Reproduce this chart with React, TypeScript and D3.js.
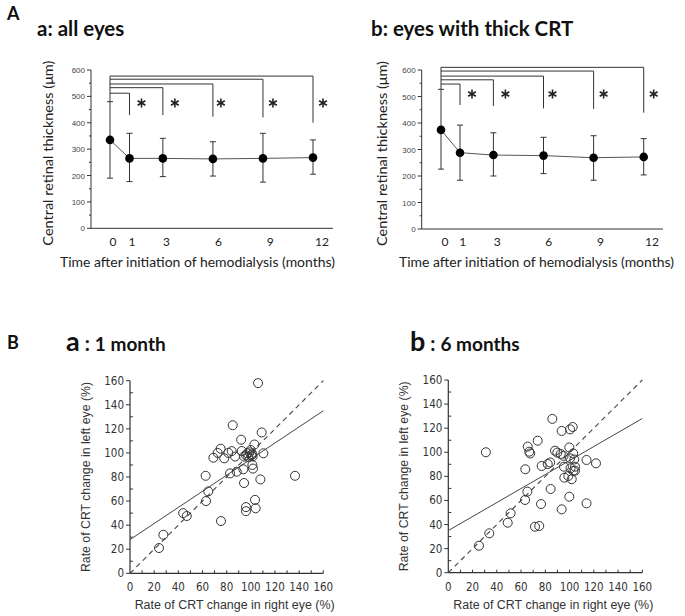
import React from "react";
import * as d3 from "d3";

// ---------- Data ----------
const months = [0, 1, 3, 6, 9, 12];
const allEyesMean = [335, 265, 265, 263, 265, 268];
const allEyesUpper = [480, 360, 341, 328, 360, 335];
const allEyesLower = [190, 177, 196, 198, 175, 205];
const allEyesBracketLevel = [512, 533, 547, 565, 577];
const allEyesBracketEnd = [429, 429, 423, 420, 400];

const thickMean = [374, 288, 279, 277, 269, 272];
const thickUpper = [527, 392, 363, 346, 352, 341];
const thickLower = [226, 184, 200, 209, 184, 204];
const thickBracketLevel = [547, 563, 577, 596, 610];
const thickBracketEnd = [468, 464, 455, 453, 439];

const yTicksA = [0, 100, 200, 300, 400, 500, 600];
const ticksB = [0, 20, 40, 60, 80, 100, 120, 140, 160];

// Scatter: 1 month (right eye %, left eye %)
const oneMonthRight = [106, 85, 109, 92, 75, 103, 72.6, 69, 78, 81.4, 84.2, 87, 92.5, 94.4, 97.1, 99.9, 101.2, 101.5, 97.9, 110.4, 99, 100.5, 96, 101.3, 101.8, 62.6, 82.8, 88.3, 93.8, 94.4, 107.9, 136.6, 64.8, 62.9, 103.5, 96, 96, 104, 75.3, 44, 47, 27.6, 24];
const oneMonthLeft = [158, 123, 117, 111, 103.5, 107, 100, 96, 95.5, 100, 101.5, 97, 101.6, 97, 99.7, 102.4, 99, 97, 96.4, 99.7, 100.5, 98, 98, 90, 87, 81, 83, 84.4, 86.4, 75, 78, 81, 68, 60, 61, 55, 51.6, 54, 43.4, 50, 47.6, 32, 21];
const oneMonthFit = [28, 135];

// Scatter: 6 months
const sixMonthRight = [31, 85.8, 93.5, 100.4, 102.6, 73.7, 65.5, 66.8, 67.5, 99.8, 88, 89.9, 92.7, 95, 103, 103.9, 100.4, 114, 121.8, 63.5, 77, 82, 84, 95.4, 100.8, 104.5, 104.5, 95.7, 99, 101.8, 25.3, 33.8, 49, 51.4, 63.3, 65.2, 71.5, 75, 76.5, 84.4, 93.5, 99.8, 114, 103.1];
const sixMonthLeft = [100, 127.7, 117.7, 119, 121, 109.6, 104.7, 100.5, 99, 104, 101.3, 99.7, 98.6, 97, 99, 94, 95, 93.6, 90.8, 85.9, 88.6, 90.2, 91.5, 88, 86.7, 88, 84.7, 78.9, 80.3, 77.6, 22.4, 32.7, 41.5, 49.3, 60.4, 67.3, 38.2, 38.8, 57, 69.5, 52.6, 63.1, 57.6, 84.5];
const sixMonthFit = [35, 128];

// ---------- Components ----------
const labelFont = "Lato, 'Open Sans', sans-serif";
const tickFont = "'Liberation Sans Narrow', 'DejaVu Sans Condensed', 'Liberation Sans', sans-serif";

function Star({ cx, cy }: { cx: number; cy: number }) {
  const r = 4.5;
  const arms = [90, 30, 150];
  return (
    <g>
      {arms.map((a) => {
        const rad = (a * Math.PI) / 180;
        return (
          <line
            key={a}
            x1={cx - r * Math.cos(rad)}
            y1={cy - r * Math.sin(rad)}
            x2={cx + r * Math.cos(rad)}
            y2={cy + r * Math.sin(rad)}
            stroke="#222"
            strokeWidth={1.6}
          />
        );
      })}
    </g>
  );
}

type LinePanelProps = {
  axisX: number;
  xRange: [number, number, number];
  labelRange: [number, number, number];
  yRange: [number, number];
  axisEnd: number;
  mean: number[];
  upper: number[];
  lower: number[];
  level: number[];
  end: number[];
  starDx: number[];
  starY: number;
  titleX: number;
  title: string;
  yTitleX: number;
  xTitleX: number;
};

function LinePanel(p: LinePanelProps) {
  const x = d3.scaleLinear().domain([0, 1, 12]).range(p.xRange);
  const xl = d3.scaleLinear().domain([0, 1, 12]).range(p.labelRange);
  const y = d3.scaleLinear().domain([0, 600]).range(p.yRange);
  const line = d3
    .line<number>()
    .x((_, i) => x(months[i]))
    .y((d) => y(d));
  const minor = d3.range(50, 600, 100);
  const x0 = x(0);
  return (
    <g>
      <text x={p.titleX} y={36} fontFamily={labelFont} fontWeight="bold" fontSize={20.5} fill="#111">
        {p.title}
      </text>
      {/* y axis */}
      <line x1={p.axisX} x2={p.axisX} y1={y(600)} y2={y(0)} stroke="#333" strokeWidth={1} />
      <line x1={p.axisX} x2={p.axisEnd} y1={y(0)} y2={y(0)} stroke="#333" strokeWidth={1} />
      {yTicksA.map((t) => (
        <g key={t}>
          <line x1={p.axisX - 4} x2={p.axisX} y1={y(t)} y2={y(t)} stroke="#333" />
          <text x={p.axisX - 6} y={y(t) + 3} textAnchor="end" fontFamily="'Liberation Sans', sans-serif" fontSize={8} fill="#444">
            {t}
          </text>
        </g>
      ))}
      {minor.map((t) => (
        <line key={t} x1={p.axisX - 2} x2={p.axisX} y1={y(t)} y2={y(t)} stroke="#333" />
      ))}
      {/* x tick labels */}
      {months.map((m) => (
        <text key={m} x={xl(m)} y={246} textAnchor="middle" fontFamily={labelFont} fontSize={12} fill="#222">
          {m}
        </text>
      ))}
      {/* brackets */}
      <line x1={x0} x2={x0} y1={y(p.level[p.level.length - 1])} y2={y(p.upper[0])} stroke="#333" />
      {p.level.map((lv, i) => (
        <g key={i}>
          <line x1={x0} x2={x(months[i + 1])} y1={y(lv)} y2={y(lv)} stroke="#333" />
          <line x1={x(months[i + 1])} x2={x(months[i + 1])} y1={y(lv)} y2={y(p.end[i])} stroke="#333" />
          <Star cx={x(months[i + 1]) + p.starDx[i]} cy={p.starY} />
        </g>
      ))}
      {/* error bars */}
      {months.map((m, i) => (
        <g key={m}>
          <line x1={x(m)} x2={x(m)} y1={y(p.upper[i])} y2={y(p.lower[i])} stroke="#333" />
          <line x1={x(m) - 3} x2={x(m) + 3} y1={y(p.upper[i])} y2={y(p.upper[i])} stroke="#333" />
          <line x1={x(m) - 3} x2={x(m) + 3} y1={y(p.lower[i])} y2={y(p.lower[i])} stroke="#333" />
        </g>
      ))}
      <path d={line(p.mean) || ""} fill="none" stroke="#555" strokeWidth={1} />
      {months.map((m, i) => (
        <circle key={m} cx={x(m)} cy={y(p.mean[i])} r={4.3} fill="#000" />
      ))}
      {/* axis titles */}
      <text
        transform={`translate(${p.yTitleX},${(y(0) + y(600)) / 2 + 4}) rotate(-90)`}
        textAnchor="middle"
        fontFamily={labelFont}
        fontSize={12.5}
        fill="#222"
        textLength={185}
        lengthAdjust="spacingAndGlyphs"
      >
        Central retinal thickness (μm)
      </text>
      <text x={p.xTitleX} y={267} fontFamily={labelFont} fontSize={12.5} fill="#222" textLength={275} lengthAdjust="spacingAndGlyphs">
        Time after initiation of hemodialysis (months)
      </text>
    </g>
  );
}

type ScatterProps = {
  x0: number;
  x1: number;
  y0: number;
  y1: number;
  xs: number[];
  ys: number[];
  fit: number[];
  letter: string;
  subtitle: string;
  titleX: number;
  yTitleX: number;
};

function ScatterPanel(p: ScatterProps) {
  const x = d3.scaleLinear().domain([0, 160]).range([p.x0, p.x1]);
  const y = d3.scaleLinear().domain([0, 160]).range([p.y0, p.y1]);
  const minor = d3.range(10, 170, 20);
  const allTen = d3.range(10, 170, 10);
  return (
    <g>
      <text x={p.titleX} y={351} fontFamily={labelFont} fontWeight="bold" fill="#111">
        <tspan fontSize={27}>{p.letter}</tspan>
        <tspan fontSize={20} dx={5}>:</tspan>
        <tspan fontSize={19} dx={5}>{p.subtitle}</tspan>
      </text>
      {/* axes */}
      <line x1={x(0)} x2={x(0)} y1={y(160)} y2={y(0)} stroke="#333" strokeWidth={1.2} />
      <line x1={x(0)} x2={x(160)} y1={y(0)} y2={y(0)} stroke="#333" strokeWidth={1.2} />
      {ticksB.map((t) => (
        <g key={t}>
          <line x1={x(0) - 4} x2={x(0)} y1={y(t)} y2={y(t)} stroke="#333" />
          <text x={x(0) - 6} y={y(t) + 4} textAnchor="end" fontFamily={tickFont} fontSize={11.5} fill="#333">
            {t}
          </text>
          <text x={x(t)} y={y(0) + 18} textAnchor="middle" fontFamily={tickFont} fontSize={11.5} fill="#333">
            {t}
          </text>
        </g>
      ))}
      {minor.map((t) => (
        <line key={t} x1={x(0)} x2={x(0) + 3} y1={y(t)} y2={y(t)} stroke="#333" />
      ))}
      {allTen.map((t) => (
        <line key={t} x1={x(t)} x2={x(t)} y1={y(0)} y2={y(0) - 3} stroke="#333" />
      ))}
      {/* identity dashed */}
      <line x1={x(0)} y1={y(0)} x2={x(160)} y2={y(160)} stroke="#444" strokeWidth={1.1} strokeDasharray="5,4" />
      {/* regression */}
      <line x1={x(0)} y1={y(p.fit[0])} x2={x(160)} y2={y(p.fit[1])} stroke="#444" strokeWidth={1} />
      {p.xs.map((v, i) => (
        <circle key={i} cx={x(v)} cy={y(p.ys[i])} r={4.5} fill="none" stroke="#333" strokeWidth={1} />
      ))}
      <text
        transform={`translate(${p.yTitleX},${(y(0) + y(160)) / 2}) rotate(-90)`}
        textAnchor="middle"
        fontFamily="'Liberation Sans', sans-serif"
        fontSize={12.5}
        fill="#333"
        textLength={190}
        lengthAdjust="spacingAndGlyphs"
      >
        Rate of CRT change in left eye (%)
      </text>
      <text
        x={(x(0) + x(160)) / 2 + 8}
        y={609}
        textAnchor="middle"
        fontFamily="'Liberation Sans', sans-serif"
        fontSize={12.5}
        fill="#333"
        textLength={200}
        lengthAdjust="spacingAndGlyphs"
      >
        Rate of CRT change in right eye (%)
      </text>
    </g>
  );
}

export default function App() {
  return (
    <svg width={685} height={616} style={{ position: "absolute", left: 0, top: 0, background: "#fff" }}>
      <rect width={685} height={616} fill="#fff" />
      <text x={7} y={20} fontFamily={labelFont} fontWeight="bold" fontSize={18} fill="#111">
        A
      </text>
      <text x={7} y={349} fontFamily={labelFont} fontWeight="bold" fontSize={18} fill="#111">
        B
      </text>
      <LinePanel
        axisX={91}
        xRange={[110, 129.5, 313]}
        labelRange={[113, 132, 322]}
        yRange={[228.3, 70]}
        axisEnd={333}
        mean={allEyesMean}
        upper={allEyesUpper}
        lower={allEyesLower}
        level={allEyesBracketLevel}
        end={allEyesBracketEnd}
        starDx={[12, 12, 8, 10, 10]}
        starY={103}
        titleX={37}
        title="a: all eyes"
        yTitleX={53}
        xTitleX={60}
      />
      <LinePanel
        axisX={421.7}
        xRange={[441, 460, 643.7]}
        labelRange={[445, 462.7, 652]}
        yRange={[229, 70]}
        axisEnd={663}
        mean={thickMean}
        upper={thickUpper}
        lower={thickLower}
        level={thickBracketLevel}
        end={thickBracketEnd}
        starDx={[12, 12, 9, 10, 10]}
        starY={94}
        titleX={371}
        title="b: eyes with thick CRT"
        yTitleX={387}
        xTitleX={399}
      />
      <ScatterPanel
        x0={130}
        x1={323.3}
        y0={573.3}
        y1={380.7}
        xs={oneMonthRight}
        ys={oneMonthLeft}
        fit={oneMonthFit}
        letter="a"
        subtitle="1 month"
        titleX={66}
        yTitleX={90}
      />
      <ScatterPanel
        x0={448.3}
        x1={642.3}
        y0={572.7}
        y1={380}
        xs={sixMonthRight}
        ys={sixMonthLeft}
        fit={sixMonthFit}
        letter="b"
        subtitle="6 months"
        titleX={410}
        yTitleX={408}
      />
    </svg>
  );
}
